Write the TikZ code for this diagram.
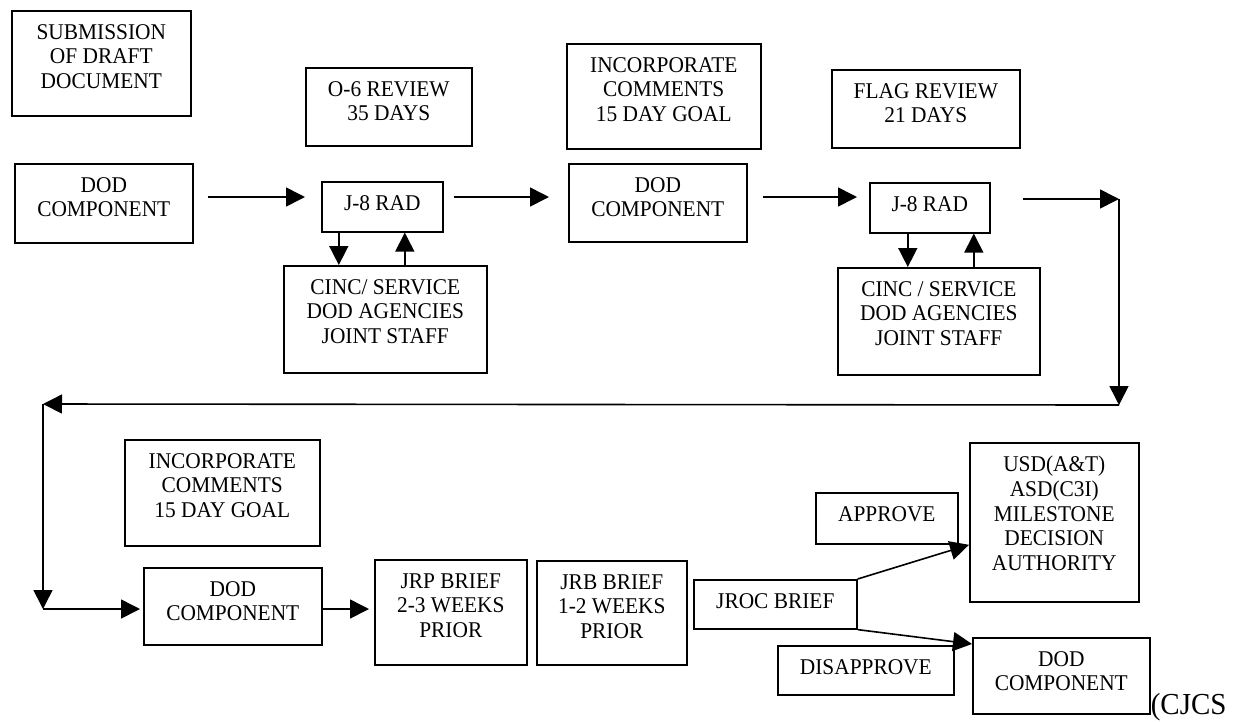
\documentclass[tikz,border=0pt]{standalone}
\usepackage{fontspec}
\setmainfont{Liberation Serif}[FakeStretch=0.95]
\usepackage{tikz}
\usetikzlibrary{arrows.meta}

\newcommand{\blocktext}[3]{\parbox[c][#2pt][t]{#1pt}{\centering\vspace*{13.5pt}#3}}

\begin{document}
\begin{tikzpicture}[->,>={Triangle[length=19pt,width=19pt]},x=1pt,y=-1pt,line width=1.6pt,
                    block node/.style={draw,inner sep=0pt,anchor=north west,font=\fontsize{22.5}{24.6}\selectfont}]
        \useasboundingbox (0,0) rectangle (1234,721);

        \node[block node] (1) at (11,10) {\blocktext{179}{105}{SUBMISSION\\OF DRAFT\\DOCUMENT}};
        \node[block node] (2) at (305,67) {\blocktext{166}{78}{O-6 REVIEW\\35 DAYS}};
        \node[block node] (3) at (14,163) {\blocktext{178}{79}{DOD\\COMPONENT}};
        \node[block node] (4) at (321,181) {\blocktext{121}{50}{J-8 RAD}};
        \node[block node] (5) at (283,265) {\blocktext{203}{107}{CINC/ SERVICE\\DOD AGENCIES\\JOINT STAFF}};
        \node[block node] (6) at (566,43) {\blocktext{194}{105}{INCORPORATE\\COMMENTS\\15 DAY GOAL}};
        \node[block node] (7) at (568,163) {\blocktext{178}{78}{DOD\\COMPONENT}};
        \node[block node] (8) at (831,69) {\blocktext{188}{78}{FLAG REVIEW\\21 DAYS}};
        \node[block node] (9) at (869,182) {\blocktext{120}{50}{J-8 RAD}};
        \node[block node] (10) at (837,267) {\blocktext{202}{107}{CINC / SERVICE\\DOD AGENCIES\\JOINT STAFF}};
        \node[block node] (11) at (124,439) {\blocktext{195}{106}{INCORPORATE\\COMMENTS\\15 DAY GOAL}};
        \node[block node] (12) at (143,567) {\blocktext{178}{77}{DOD\\COMPONENT}};
        \node[block node] (13) at (374,559) {\blocktext{152}{105}{JRP BRIEF\\2-3 WEEKS\\PRIOR}};
        \node[block node] (14) at (536,560) {\blocktext{150}{104}{JRB BRIEF\\1-2 WEEKS\\PRIOR}};
        \node[block node] (15) at (693,579) {\blocktext{163}{49}{JROC BRIEF}};
        \node[block node] (16) at (815,492) {\blocktext{142}{51}{APPROVE}};
        \node[block node] (17) at (969,442) {\blocktext{169}{159}{USD(A\&T)\\ASD(C3I)\\MILESTONE\\DECISION\\AUTHORITY}};
        \node[block node] (18) at (777,645) {\blocktext{176}{49}{DISAPPROVE}};
        \node[block node] (19) at (972,637) {\blocktext{177}{76}{DOD\\COMPONENT}};
        \node[anchor=base west,inner sep=0pt,font=\fontsize{30.5}{32}\selectfont] (20) at (1150,714) {(CJCS};

        \coordinate (r) at (0,197);
        \coordinate (c1) at (1119,199);
        \coordinate (c2) at (1119,405);
        \coordinate (c3) at (43,404);
        \coordinate (c4) at (43,609);

        \draw ([xshift=14pt]3.east |- r) -- ([xshift=-16pt]4.west |- r);
        \draw ([xshift=10pt]4.east |- r) -- ([xshift=-19pt]7.west |- r);
        \draw ([xshift=15pt]7.east |- r) -- ([xshift=-12pt]9.west |- r);
        \draw ([xshift=32pt]9.east |- c1) -- (c1);
        \draw (c1) -- (c2);
        \draw (c2) -- (c3);
        \draw (c3) -- (c4);
        \draw (c4) -- ([xshift=-3pt]12.west |- c4);
        \draw (12.east |- c4) -- ([xshift=-5pt]13.west |- c4);

        \draw ([xshift=-43.5pt]4.south) -- ([xshift=-43.5pt]4.south |- 5.north);
        \draw ([xshift=22.5pt]4.south |- 5.north) -- ([xshift=22.5pt]4.south);
        \draw ([xshift=-22pt]9.south) -- ([xshift=-22pt]9.south |- 10.north);
        \draw ([xshift=44pt]9.south |- 10.north) -- ([xshift=44pt]9.south);

        \draw (15.north east) -- ([yshift=-22.5pt]17.west);
        \draw (15.south east) -- ([yshift=-7pt]19.north west);
\end{tikzpicture}
\end{document}
